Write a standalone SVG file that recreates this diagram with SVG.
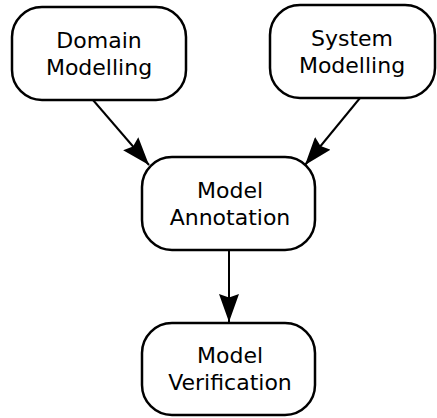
<svg xmlns="http://www.w3.org/2000/svg" width="437" height="418" viewBox="0 0 437 418">
<defs>
<marker id="ah" viewBox="0 0 28 20" refX="28" refY="10" markerWidth="28" markerHeight="20" markerUnits="userSpaceOnUse" orient="auto">
<path d="M0,0 L28,10 L0,20 L3.5,10 Z" fill="#000"/>
</marker>
<style>
.n rect{fill:#fff;stroke:#000;stroke-width:2.5}
.n text{font-family:"DejaVu Sans",sans-serif;font-size:22px;text-anchor:middle;fill:#000}
.c path{fill:none;stroke:#000;stroke-width:2;marker-end:url(#ah)}
</style>
</defs>
<rect width="437" height="418" fill="#fff"/>
<g class="c" id="connectors">
<path d="M93,100 L149,165"/>
<path d="M360,98 L305,165"/>
<path d="M229,250 L229,322"/>
</g>
<g class="n" id="domain">
<rect x="12" y="7" width="174" height="93" rx="30"/>
<text x="99" y="47.5">Domain</text>
<text x="99" y="74.5">Modelling</text>
</g>
<g class="n" id="system">
<rect x="270" y="5" width="165" height="93" rx="30"/>
<text x="352" y="45.5">System</text>
<text x="352" y="72.5">Modelling</text>
</g>
<g class="n" id="annotation">
<rect x="142" y="157" width="173" height="93" rx="30"/>
<text x="230" y="198">Model</text>
<text x="230" y="225">Annotation</text>
</g>
<g class="n" id="verification">
<rect x="142" y="323" width="173" height="92" rx="30"/>
<text x="230" y="363">Model</text>
<text x="230" y="390">Verification</text>
</g>
</svg>
